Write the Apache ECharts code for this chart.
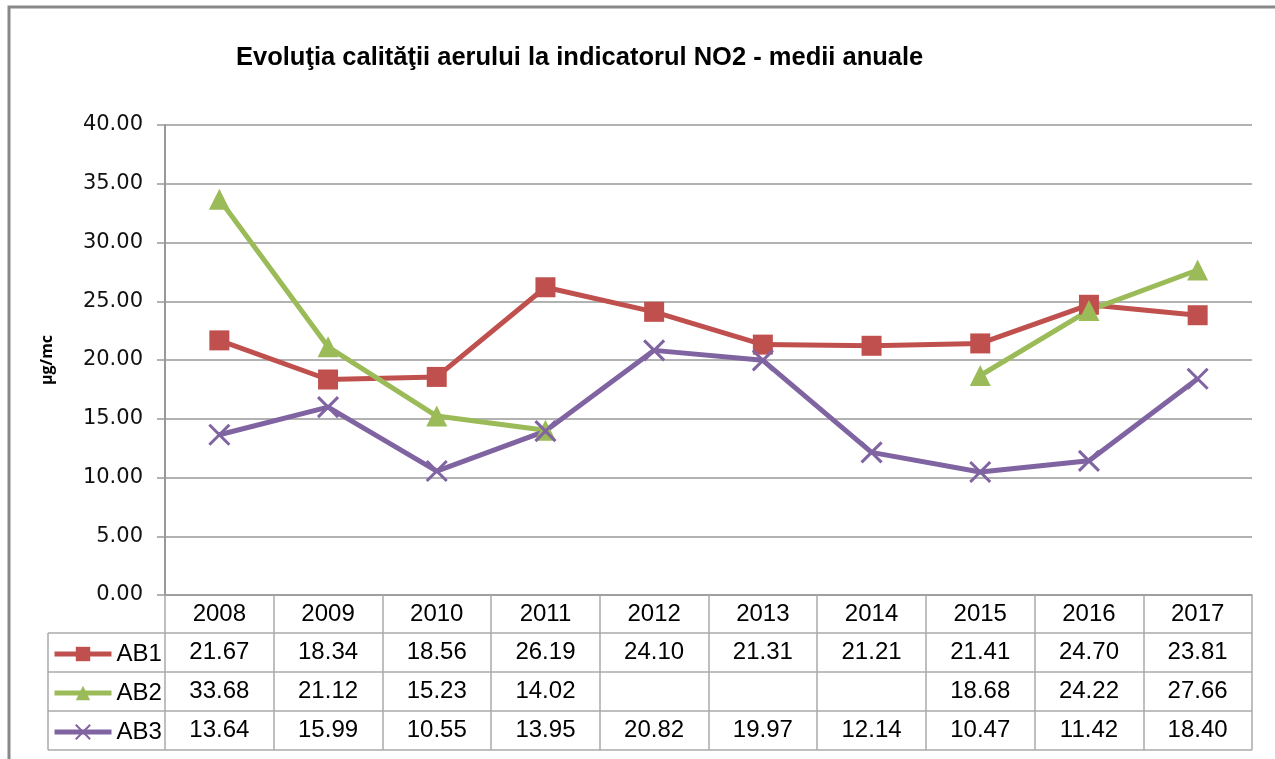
<!DOCTYPE html>
<html>
<head>
<meta charset="utf-8">
<script src="https://cdn.jsdelivr.net/npm/echarts@6/dist/echarts.min.js"></script>
<style>
  html, body { margin: 0; padding: 0; background: #fff; }
  #chart { width: 1275px; height: 759px; }
</style>
</head>
<body>
<div id="chart"></div>
<script>
const years = ['2008', '2009', '2010', '2011', '2012', '2013', '2014', '2015', '2016', '2017'];
const ab1 = [21.67, 18.34, 18.56, 26.19, 24.10, 21.31, 21.21, 21.41, 24.70, 23.81];
const ab2 = [33.68, 21.12, 15.23, 14.02, null, null, null, 18.68, 24.22, 27.66];
const ab3 = [13.64, 15.99, 10.55, 13.95, 20.82, 19.97, 12.14, 10.47, 11.42, 18.40];
const seriesNames = ['AB1', 'AB2', 'AB3'];

const chart = echarts.init(document.getElementById('chart'));

// layout of the plot + data table
const gridLeft = 165, gridRight = 1252, gridTop = 125, gridBottom = 595;
const tableLeft = 48;
const rowLines = [633, 672, 711, 750];
const gray = '#999';
const tableGray = '#aaa';

const fmt = v => (v == null ? '' : v.toFixed(2));

// one hidden x axis per table row, used only for its labels
function rowAxis(values, rowIdx) {
  const center = (rowLines[rowIdx] + rowLines[rowIdx + 1]) / 2;
  return {
    type: 'category',
    position: 'bottom',
    data: values.map(fmt),
    axisLine: { show: false },
    axisTick: { show: false },
    axisLabel: {
      interval: 0,
      margin: center - gridBottom,
      verticalAlign: 'middle',
      fontFamily: 'Liberation Sans',
      fontSize: 24,
      color: '#000'
    }
  };
}

const tableLines = rowLines.map(y => ({
  type: 'line',
  shape: { x1: tableLeft, y1: y, x2: gridRight, y2: y },
  style: { stroke: tableGray, lineWidth: 1.5 }
}));
tableLines.push({
  type: 'line',
  shape: { x1: tableLeft, y1: rowLines[0], x2: tableLeft, y2: rowLines[3] },
  style: { stroke: tableGray, lineWidth: 1.5 }
});

const option = {
  animation: false,
  backgroundColor: '#fff',
  title: {
    text: 'Evoluţia calităţii aerului la indicatorul NO2 - medii anuale',
    left: 231,
    top: 40,
    textStyle: {
      fontFamily: 'Liberation Sans',
      fontSize: 25.5,
      fontWeight: 'bold',
      color: '#000'
    }
  },
  legend: {
    data: seriesNames,
    orient: 'vertical',
    left: 52,
    top: 642,
    padding: 0,
    itemWidth: 57,
    itemHeight: 18,
    itemGap: 15,
    lineStyle: { width: 5 },
    textStyle: {
      fontFamily: 'Liberation Sans',
      fontSize: 24,
      lineHeight: 24,
      color: '#000'
    }
  },
  grid: {
    left: gridLeft,
    right: 1275 - gridRight,
    top: gridTop,
    bottom: 759 - gridBottom
  },
  xAxis: [
    {
      type: 'category',
      data: years,
      boundaryGap: true,
      axisLine: { lineStyle: { color: gray, width: 1.5 } },
      axisTick: {
        show: true,
        interval: 0,
        length: rowLines[3] - gridBottom,
        lineStyle: { color: tableGray, width: 1.5 }
      },
      axisLabel: {
        interval: 0,
        margin: (gridBottom + rowLines[0]) / 2 - gridBottom,
        verticalAlign: 'middle',
        fontFamily: 'Liberation Sans',
        fontSize: 24,
        color: '#000'
      }
    },
    rowAxis(ab1, 0),
    rowAxis(ab2, 1),
    rowAxis(ab3, 2)
  ],
  yAxis: {
    type: 'value',
    min: 0,
    max: 40,
    interval: 5,
    name: 'µg/mc',
    nameLocation: 'middle',
    nameGap: 110,
    nameRotate: 90,
    nameTextStyle: {
      fontFamily: 'Open Sans',
      fontWeight: 'bold',
      fontSize: 16,
      color: '#000'
    },
    axisLine: { show: true, lineStyle: { color: gray, width: 2 } },
    axisTick: { show: true, length: 8, lineStyle: { color: gray, width: 1.5 } },
    axisLabel: {
      formatter: v => v.toFixed(2),
      margin: 22,
      fontFamily: 'DejaVu Sans',
      fontSize: 21,
      color: '#111'
    },
    splitLine: { lineStyle: { color: gray, width: 1.5 } }
  },
  series: [
    {
      name: 'AB1',
      type: 'line',
      data: ab1,
      color: '#C0504D',
      symbol: 'rect',
      symbolSize: 20,
      lineStyle: { width: 5 }
    },
    {
      name: 'AB2',
      type: 'line',
      data: ab2,
      color: '#9BBB59',
      symbol: 'triangle',
      symbolSize: 21,
      connectNulls: false,
      lineStyle: { width: 5 }
    },
    {
      name: 'AB3',
      type: 'line',
      data: ab3,
      color: '#8064A2',
      symbol: 'path://M0,0L10,10M0,10L10,0',
      symbolSize: 20,
      itemStyle: { borderColor: '#8064A2', borderWidth: 3 },
      lineStyle: { width: 5 }
    }
  ],
  graphic: [
    {
      type: 'rect',
      shape: { x: 9, y: 7, width: 1400, height: 900 },
      style: { fill: 'none', stroke: '#888', lineWidth: 3 }
    }
  ].concat(tableLines)
};

chart.setOption(option);
</script>
</body>
</html>
